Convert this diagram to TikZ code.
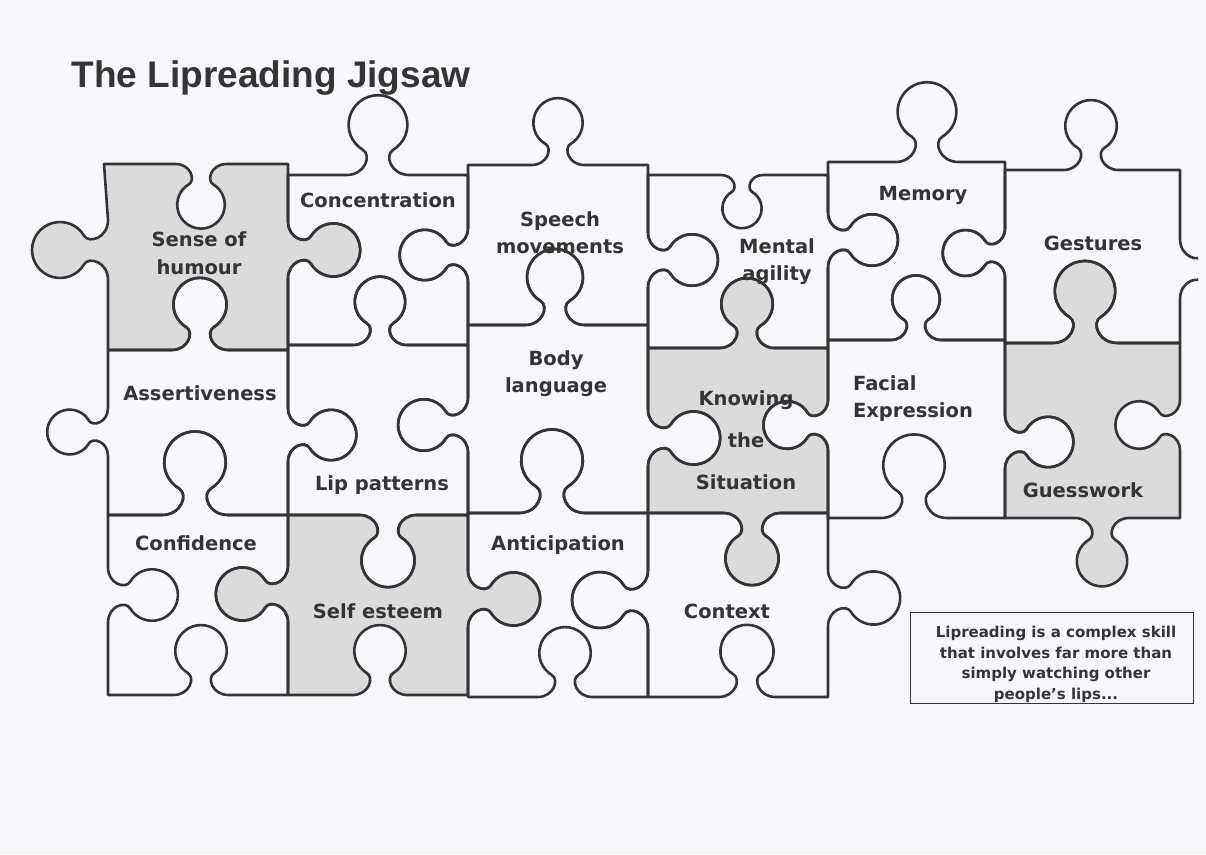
\documentclass[tikz,border=0pt]{standalone}
\usepackage{fontspec}
\usepackage{tikz}
\newfontfamily\lblfont{DejaVu Sans}
\newfontfamily\titlefont{Liberation Sans}
\definecolor{paper}{RGB}{247,247,251}
\definecolor{ink}{RGB}{52,52,52}
\tikzstyle{piece}=[draw=ink, line width=2.6pt, line join=round]
\tikzstyle{shaded}=[piece, fill=black!14]
\tikzstyle{lbl}=[inner sep=0pt, anchor=base, align=center, text=ink, font=\lblfont\bfseries\fontsize{19.5}{27}\selectfont]
\tikzstyle{headline}=[inner sep=0pt, anchor=base, text=ink, font=\titlefont\bfseries\fontsize{37}{44}\selectfont]
\tikzstyle{notebox}=[draw=ink, line width=1pt, minimum width=283pt, minimum height=91pt, inner sep=0pt]
\tikzstyle{notetext}=[inner sep=0pt, anchor=base, align=center, text=ink, font=\lblfont\bfseries\fontsize{15}{20.5}\selectfont]
% knob on a horizontal edge: centre x, edge y, direction (1 = left to right), side (1 = down), size
\newcommand{\hknob}[5]{%
 -- ({#1-(#3)*#5*30},#2)
 .. controls ({#1-(#3)*#5*12},#2) and ({#1-(#3)*#5*6},{#2+(#4)*#5*19}) .. ({#1-(#3)*#5*14.4},{#2+(#4)*#5*24})
 .. controls ({#1-(#3)*#5*25.2},{#2+(#4)*#5*30.5}) and ({#1-(#3)*#5*30.3},{#2+(#4)*#5*43.1}) .. ({#1-(#3)*#5*27},{#2+(#4)*#5*55.3})
 .. controls ({#1-(#3)*#5*23.8},{#2+(#4)*#5*67.4}) and ({#1-(#3)*#5*12.6},{#2+(#4)*#5*76}) .. (#1,{#2+(#4)*#5*76})
 .. controls ({#1+(#3)*#5*12.6},{#2+(#4)*#5*76}) and ({#1+(#3)*#5*23.8},{#2+(#4)*#5*67.4}) .. ({#1+(#3)*#5*27},{#2+(#4)*#5*55.3})
 .. controls ({#1+(#3)*#5*30.3},{#2+(#4)*#5*43.1}) and ({#1+(#3)*#5*25.2},{#2+(#4)*#5*30.5}) .. ({#1+(#3)*#5*14.4},{#2+(#4)*#5*24})
 .. controls ({#1+(#3)*#5*6},{#2+(#4)*#5*19}) and ({#1+(#3)*#5*12},#2) .. ({#1+(#3)*#5*30},#2)}
% knob on a vertical edge: edge x, centre y, direction (1 = downwards), side (1 = right), size
\newcommand{\vknob}[5]{%
 -- (#1,{#2-(#3)*#5*30})
 .. controls (#1,{#2-(#3)*#5*12}) and ({#1+(#4)*#5*19},{#2-(#3)*#5*6}) .. ({#1+(#4)*#5*24},{#2-(#3)*#5*14.4})
 .. controls ({#1+(#4)*#5*30.5},{#2-(#3)*#5*25.2}) and ({#1+(#4)*#5*43.1},{#2-(#3)*#5*30.3}) .. ({#1+(#4)*#5*55.3},{#2-(#3)*#5*27})
 .. controls ({#1+(#4)*#5*67.4},{#2-(#3)*#5*23.8}) and ({#1+(#4)*#5*76},{#2-(#3)*#5*12.6}) .. ({#1+(#4)*#5*76},#2)
 .. controls ({#1+(#4)*#5*76},{#2+(#3)*#5*12.6}) and ({#1+(#4)*#5*67.4},{#2+(#3)*#5*23.8}) .. ({#1+(#4)*#5*55.3},{#2+(#3)*#5*27})
 .. controls ({#1+(#4)*#5*43.1},{#2+(#3)*#5*30.3}) and ({#1+(#4)*#5*30.5},{#2+(#3)*#5*25.2}) .. ({#1+(#4)*#5*24},{#2+(#3)*#5*14.4})
 .. controls ({#1+(#4)*#5*19},{#2+(#3)*#5*6}) and (#1,{#2+(#3)*#5*12}) .. (#1,{#2+(#3)*#5*30})}

\begin{document}
\begin{tikzpicture}[x=1pt, y=-1pt]
				%The paper
				\fill[paper] (0,0) rectangle (1206,854);
				\clip (0,0) rectangle (1198,854);
				
				%The grey pieces
				\draw[shaded] (104,164) \hknob{201}{164}{1}{1}{.85} -- (288,164) \vknob{288}{250}{1}{1}{.95} -- (288,350) \hknob{200}{350}{-1}{-1}{.95} -- (108,350) \vknob{108}{250}{-1}{-1}{1} -- cycle;
				\draw[shaded] (648,348) \hknob{747}{348}{1}{-1}{.92} -- (828,348) \vknob{828}{425}{1}{-1}{.85} -- (828,513) \hknob{752}{513}{-1}{1}{.95} -- (648,513) \vknob{648}{438}{-1}{1}{.95} -- cycle;
				\draw[shaded] (1005,343) \hknob{1085}{343}{1}{-1}{1.08} -- (1180,343) \vknob{1180}{425}{1}{-1}{.85} -- (1180,518) \hknob{1102}{518}{-1}{1}{.9} -- (1005,518) \vknob{1005}{442}{-1}{1}{.9} -- cycle;
				\draw[shaded] (288,515) \hknob{388}{515}{1}{1}{.95} -- (468,515) \vknob{468}{599}{1}{1}{.95} -- (468,695) \hknob{380}{695}{-1}{-1}{.92} -- (288,695) \vknob{288}{594}{-1}{-1}{.95} -- cycle;
				
				%The top row
				\draw[piece] (288,175) \hknob{378}{175}{1}{-1}{1.05} -- (468,175) \vknob{468}{255}{1}{-1}{.9} -- (468,345) \hknob{380}{345}{-1}{-1}{.9} -- (288,345) \vknob{288}{250}{-1}{1}{.95} -- cycle;
				\draw[piece] (468,165) \hknob{558}{165}{1}{-1}{.88} -- (648,165) \vknob{648}{260}{1}{1}{.92} -- (648,325) \hknob{555}{325}{-1}{-1}{1} -- (468,325) \vknob{468}{255}{-1}{-1}{.9} -- cycle;
				\draw[piece] (648,175) \hknob{742}{175}{1}{1}{.7} -- (828,175) \vknob{828}{240}{1}{1}{.92} -- (828,348) \hknob{747}{348}{-1}{-1}{.92} -- (648,348) \vknob{648}{260}{-1}{1}{.92} -- cycle;
				\draw[piece] (828,162) \hknob{927}{162}{1}{-1}{1.05} -- (1005,162) \vknob{1005}{253}{1}{-1}{.82} -- (1005,340) \hknob{916}{340}{-1}{-1}{.85} -- (828,340) \vknob{828}{240}{-1}{1}{.92} -- cycle;
				\draw[piece] (1005,170) \hknob{1091}{170}{1}{-1}{.92} -- (1180,170) \vknob{1180}{269}{1}{1}{1} -- (1180,343) \hknob{1085}{343}{-1}{-1}{1.08} -- (1005,343) \vknob{1005}{253}{-1}{-1}{.82} -- cycle;
				
				%The middle row
				\draw[piece] (108,350) \hknob{200}{350}{1}{-1}{.95} -- (288,350) \vknob{288}{435}{1}{1}{.9} -- (288,515) \hknob{195}{515}{-1}{-1}{1.1} -- (108,515) \vknob{108}{432}{-1}{-1}{.8} -- cycle;
				\draw[piece] (288,345) \hknob{380}{345}{1}{-1}{.9} -- (468,345) \vknob{468}{425}{1}{-1}{.92} -- (468,515) \hknob{388}{515}{-1}{1}{.95} -- (288,515) \vknob{288}{435}{-1}{1}{.9} -- cycle;
				\draw[piece] (468,325) \hknob{555}{325}{1}{-1}{1} -- (648,325) \vknob{648}{438}{1}{1}{.95} -- (648,513) \hknob{552}{513}{-1}{-1}{1.1} -- (468,513) \vknob{468}{425}{-1}{-1}{.92} -- cycle;
				\draw[piece] (828,340) \hknob{916}{340}{1}{-1}{.85} -- (1005,340) \vknob{1005}{442}{1}{1}{.9} -- (1005,518) \hknob{914}{518}{-1}{-1}{1.1} -- (828,518) \vknob{828}{425}{-1}{-1}{.85} -- cycle;
				
				%The bottom row
				\draw[piece] (108,515) \hknob{195}{515}{1}{-1}{1.1} -- (288,515) \vknob{288}{594}{1}{-1}{.95} -- (288,695) \hknob{201}{695}{-1}{-1}{.92} -- (108,695) \vknob{108}{595}{-1}{1}{.92} -- cycle;
				\draw[piece] (468,513) \hknob{552}{513}{1}{-1}{1.1} -- (648,513) \vknob{648}{600}{1}{-1}{1} -- (648,697) \hknob{565}{697}{-1}{-1}{.92} -- (468,697) \vknob{468}{599}{-1}{1}{.95} -- cycle;
				\draw[piece] (648,513) \hknob{752}{513}{1}{1}{.95} -- (828,513) \vknob{828}{598}{1}{1}{.95} -- (828,697) \hknob{747}{697}{-1}{-1}{.95} -- (648,697) \vknob{648}{600}{-1}{-1}{1} -- cycle;
				
				%The labels
				\draw (199,274) node[lbl, font=\lblfont\bfseries\fontsize{19.5}{28}\selectfont] (humour) {Sense of\\humour};
				\draw (378,207) node[lbl] (concentration) {Concentration};
				\draw (560,253) node[lbl] (speech) {Speech\\movements};
				\draw (777,280) node[lbl] (agility) {Mental\\agility};
				\draw (923,200) node[lbl] (memory) {Memory};
				\draw (1093,250) node[lbl] (gestures) {Gestures};
				\draw (200,400) node[lbl] (assertiveness) {Assertiveness};
				\draw (382,490) node[lbl] (lip) {Lip patterns};
				\draw (556,392) node[lbl] (body) {Body\\language};
				\draw (746,489) node[lbl, font=\lblfont\bfseries\fontsize{19.5}{42}\selectfont] (situation) {Knowing\\the\\Situation};
				\draw (913,417) node[lbl, align=left] (facial) {Facial\\Expression};
				\draw (1083,497) node[lbl] (guesswork) {Guesswork};
				\draw (196,550) node[lbl] (confidence) {Confidence};
				\draw (378,618) node[lbl] (esteem) {Self esteem};
				\draw (558,550) node[lbl] (anticipation) {Anticipation};
				\draw (727,618) node[lbl] (context) {Context};
				
				%The title
				\draw (271,87) node[headline] (title) {The Lipreading Jigsaw};
				
				%The note
				\draw (1052,657.5) node[notebox] (note) {};
				\draw (1056,699) node[notetext] (notetext) {Lipreading is a complex skill\\that involves far more than\\simply watching other\\people’s lips...};
			\end{tikzpicture}
\end{document}
